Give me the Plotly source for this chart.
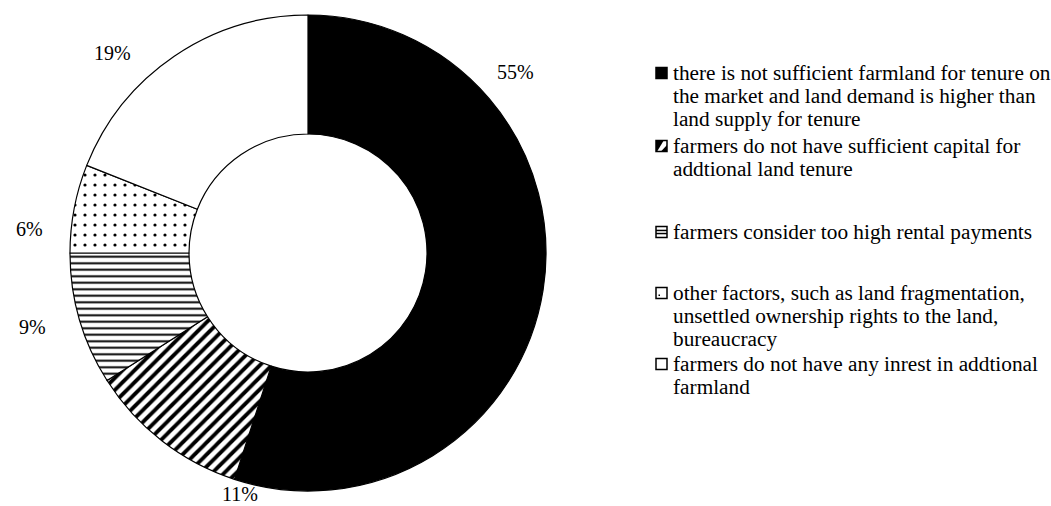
import plotly.graph_objects as go

# Reasons why farmers do not rent additional land (share of answers, %)
reasons = [
    "there is not sufficient farmland for tenure on the market and land demand is higher than land supply for tenure",
    "farmers do not have sufficient capital for addtional land tenure",
    "farmers consider too high rental payments",
    "other factors, such as land fragmentation, unsettled ownership rights to the land, bureaucracy",
    "farmers do not have any inrest in addtional farmland",
]
shares = [55, 11, 9, 6, 19]

# Legend text, wrapped as printed
legend_lines = [
    ["there is not sufficient farmland for tenure on",
     "the market and land demand is higher than",
     "land supply for tenure"],
    ["farmers do not have sufficient capital for",
     "addtional land tenure"],
    ["farmers consider too high rental payments"],
    ["other factors, such as land fragmentation,",
     "unsettled ownership rights to the land,",
     "bureaucracy"],
    ["farmers do not have any inrest in addtional",
     "farmland"],
]

W, H = 1051, 506
FONT = "Liberation Serif, Times New Roman, serif"

# Pie placement (pixels)
CX, CY, R = 308, 253, 238

fig = go.Figure(go.Pie(
    labels=reasons,
    values=shares,
    sort=False,
    direction="clockwise",
    rotation=0,
    hole=0.5,
    textinfo="none",
    hoverinfo="label+percent",
    marker=dict(
        colors=["black", "white", "white", "white", "white"],
        line=dict(color="black", width=1.2),
        pattern=dict(
            shape=["", "/", "-", ".", ""],
            fgcolor="black",
            bgcolor="white",
            size=[8, 8.5, 6.5, 10, 8],
            solidity=[0.3, 0.45, 0.3, 0.08, 0.3],
        ),
    ),
    domain=dict(x=[(CX - R) / W, (CX + R) / W], y=[(H - CY - R) / H, (H - CY + R) / H]),
    showlegend=False,
))

# Percentage labels placed around the ring (pixel centres)
label_pos = [(515, 72), (240, 494), (32, 327), (29, 229), (112, 53)]
annotations = []
for v, (px, py) in zip(shares, label_pos):
    annotations.append(dict(
        x=px / W, y=1 - py / H, xref="paper", yref="paper",
        text=f"{v}%", showarrow=False, xanchor="center", yanchor="middle",
        font=dict(family=FONT, size=20, color="black"),
    ))

# Legend: text lines and key boxes
TEXT_X = 671
KEY_X0, KEY_SIZE = 656, 11
LINE_H = 23.2
first_line_y = [73, 146, 232, 293, 364]
shapes = []
for i, (lines, y0) in enumerate(zip(legend_lines, first_line_y)):
    for j, line in enumerate(lines):
        annotations.append(dict(
            x=TEXT_X / W, y=1 - (y0 + j * LINE_H) / H, xref="paper", yref="paper",
            text=line, showarrow=False, xanchor="left", yanchor="middle",
            font=dict(family=FONT, size=21.3, color="black"),
        ))
    kx0, kx1 = KEY_X0 / W, (KEY_X0 + KEY_SIZE) / W
    ky1 = 1 - (y0 - KEY_SIZE / 2) / H
    ky0 = 1 - (y0 + KEY_SIZE / 2) / H
    fill = "black" if i == 0 else "white"
    shapes.append(dict(type="rect", xref="paper", yref="paper",
                       x0=kx0, x1=kx1, y0=ky0, y1=ky1,
                       line=dict(color="black", width=1.5), fillcolor=fill))
    if i == 1:
        # mostly dark key with a light diagonal
        shapes.append(dict(type="path", xref="paper", yref="paper",
                           path=f"M {kx0},{ky0} L {kx0},{ky1} L {kx0 + (kx1 - kx0) * 0.7},{ky1} "
                                f"L {kx0 + (kx1 - kx0) * 0.1},{ky0} Z",
                           fillcolor="black", line=dict(width=0)))
        shapes.append(dict(type="path", xref="paper", yref="paper",
                           path=f"M {kx0 + (kx1 - kx0) * 0.45},{ky0} L {kx1},{ky0} L {kx1},{ky1 - (ky1 - ky0) * 0.4} Z",
                           fillcolor="black", line=dict(width=0)))
    elif i == 2:
        for f in (0.36, 0.64):
            yy = ky0 + (ky1 - ky0) * f
            shapes.append(dict(type="line", xref="paper", yref="paper",
                               x0=kx0, x1=kx1, y0=yy, y1=yy,
                               line=dict(color="black", width=1.5)))
    elif i == 3:
        d = 1.5
        shapes.append(dict(type="rect", xref="paper", yref="paper",
                           x0=kx0 + 2.5 / W, x1=kx0 + (2.5 + d) / W,
                           y0=ky0 + 2.5 / H, y1=ky0 + (2.5 + d) / H,
                           fillcolor="black", line=dict(width=0)))

fig.update_layout(
    width=W, height=H,
    margin=dict(l=0, r=0, t=0, b=0),
    paper_bgcolor="white", plot_bgcolor="white",
    annotations=annotations,
    shapes=shapes,
    font=dict(family=FONT, color="black"),
)

fig.write_html("out.html")
